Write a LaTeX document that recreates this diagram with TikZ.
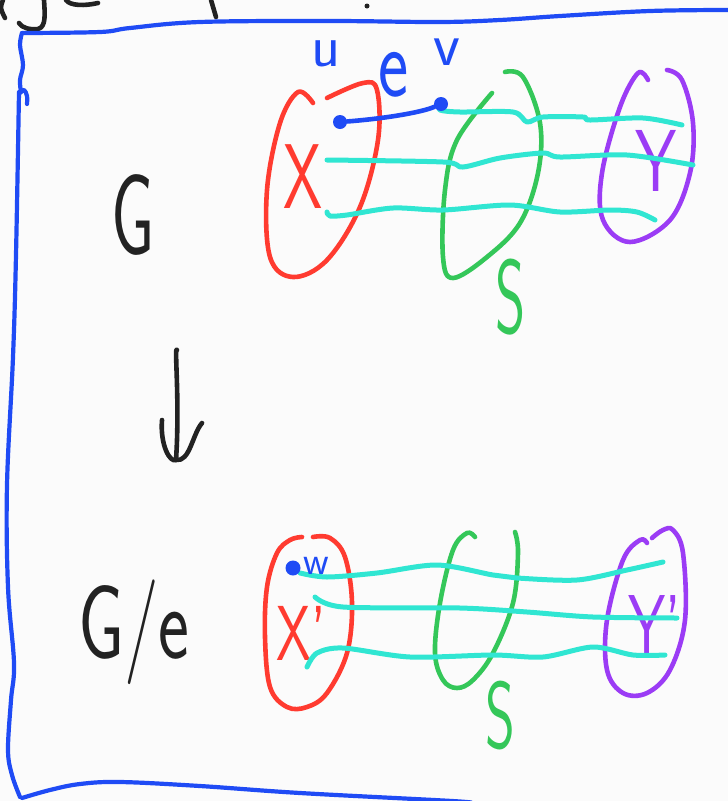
\documentclass[tikz,border=0pt]{standalone}
\usepackage{graphicx}
\definecolor{fblue}{HTML}{1F4BF5}
\definecolor{fred}{HTML}{FF3B30}
\definecolor{fgreen}{HTML}{34C759}
\definecolor{fpurple}{HTML}{9B3CF5}
\definecolor{fcyan}{HTML}{30E6D2}
\definecolor{fink}{HTML}{222222}
\definecolor{paper}{HTML}{FBFBFB}
\newcommand\hw[3]{{\fontsize{#1}{#1}\selectfont\scalebox{#2}[1]{#3}}}
\begin{document}
\begin{tikzpicture}[x=1pt,y=-1pt,
  pen/.style={line width=4.6pt, line cap=round, line join=round},
  wide/.style={line width=5pt, line cap=round, line join=round},
  hand/.style={inner sep=0pt, font=\sffamily},
  vdot/.style={circle, fill=fblue, inner sep=0pt, minimum size=14pt}]
\useasboundingbox (0,0) rectangle (728,801);
\fill[paper] (0,0) rectangle (728,801);

% cut-off handwriting at the top
\draw[pen, fink] (3,0) .. controls (0,8) .. (5,18);
\draw[pen, fink] (44,0) .. controls (45,15) and (46,27) .. (38,29) .. controls (30,30) and (22,28) .. (19,23);
\draw[pen, fink] (66,0) .. controls (70,6) and (85,6) .. (98,3);
\draw[pen, fink] (211,0) -- (216,17);
\fill[fink] (367,6) circle (2.5pt);

% blue frame
\draw[pen, fblue, line width=4.2pt] plot[smooth, tension=0.6] coordinates {(728,10) (650,11) (560,16) (500,20) (440,22) (330,21) (200,22) (130,28) (100,32) (22,33)};
\draw[pen, fblue, line width=4.2pt] plot[smooth, tension=0.6] coordinates {(22,33) (20,45) (23,65) (20,80) (21,92)};
\draw[pen, fblue, line width=4.2pt] plot[smooth, tension=0.6] coordinates {(20,93) (24,90) (27,96) (27,104)};
\draw[pen, fblue, line width=4.2pt] plot[smooth, tension=0.6] coordinates {(19,92) (16,255) (13,357) (7,485) (8,587) (14,663) (11,700) (8,750) (12,775) (20,797)};
\draw[pen, fblue, line width=4.2pt] plot[smooth, tension=0.6] coordinates {(22,798) (50,790) (80,784) (120,782) (200,786) (300,793) (452,801) (470,803)};

% ---------------- G ----------------
\node[hand, text=fink] (G) at (133,215) {\hw{115}{0.6}{G}};

% red X blob
\draw[pen, fred] plot[smooth, tension=0.6] coordinates {(313,103) (298,92) (280,123) (267,190) (270,257) (293,277) (327,260) (360,207) (378,140) (377,90) (363,83) (327,98)};
\node[hand, text=fred] (X) at (303,177) {\hw{92}{0.68}{X}};

% green S blob
\draw[pen, fgreen] plot[smooth, tension=0.6] coordinates {(505,72) (523,77) (540,123) (538,173) (520,223) (487,257) (453,278) (443,257) (445,190) (457,140) (492,93)};
\node[hand, text=fgreen] (S1) at (511,297) {\hw{105}{0.55}{S}};

% purple Y blob
\draw[pen, fpurple] plot[smooth, tension=0.6] coordinates {(648,80) (638,73) (620,107) (602,173) (603,220) (630,242) (670,220) (690,173) (693,123) (682,80) (667,70)};
\node[hand, text=fpurple] (Y) at (656,161) {\hw{88}{0.75}{Y}};

% cyan paths
\draw[wide, fcyan] plot[smooth, tension=0.5] coordinates {(441,104) (440,110) (460,112) (513,112) (527,122) (543,117) (583,117) (590,120) (643,118) (682,125)};
\draw[wide, fcyan] plot[smooth, tension=0.5] coordinates {(327,160) (443,162) (463,167) (500,158) (543,153) (560,157) (627,155) (693,165)};
\draw[wide, fcyan] plot[smooth, tension=0.5] coordinates {(327,212) (330,216) (347,215) (393,208) (443,210) (510,205) (560,212) (610,210) (637,212) (655,220)};

% edge e = uv
\node[vdot] (u) at (340,122) {};
\node[vdot] (v) at (441,104) {};
\draw[pen, fblue] (u) .. controls (380,119) and (420,113) .. (v);
\node[hand, text=fblue] (ul) at (326,54) {\hw{60}{1}{u}};
\node[hand, text=fblue] (el) at (394,75) {\hw{100}{0.72}{e}};
\node[hand, text=fblue] (vl) at (447,52) {\hw{62}{1}{v}};

% ---------------- arrow ----------------
\coordinate (a1) at (177,350);
\coordinate (a2) at (176,460);
\coordinate (h1) at (162,420);
\coordinate (h2) at (202,423);
\draw[pen, fink] (a1) .. controls (174,345) and (180,400) .. (a2);
\draw[pen, fink] (h1) .. controls (160,445) and (170,463) .. (a2) .. controls (190,462) and (192,435) .. (h2);

% ---------------- G/e ----------------
\node[hand, text=fink] (Ge) at (134,632) {\hw{105}{0.7}{G/e}};

% red X' blob
\draw[pen, fred] plot[smooth, tension=0.6] coordinates {(302,537) (290,540) (277,553) (267,587) (265,637) (270,687) (287,707) (307,707) (327,693) (347,653) (352,603) (345,557) (330,538) (313,537)};
\node[hand, text=fred] (X2) at (301,633) {\hw{78}{0.72}{X'}};

% green S blob (bottom)
\draw[pen, fgreen] plot[smooth, tension=0.6] coordinates {(475,537) (467,533) (453,550) (440,603) (435,653) (443,680) (457,688) (473,680) (493,653) (513,603) (518,553) (515,532)};
\node[hand, text=fgreen] (S2) at (500,716) {\hw{95}{0.6}{S}};

% purple Y' blob
\draw[pen, fpurple] plot[smooth, tension=0.6] coordinates {(647,543) (640,540) (623,560) (607,620) (607,670) (623,693) (647,693) (670,670) (685,620) (683,553) (673,530) (663,530) (652,538)};
\node[hand, text=fpurple] (Y2) at (655,625) {\hw{85}{0.7}{Y'}};

% cyan paths (bottom)
\draw[wide, fcyan] plot[smooth, tension=0.5] coordinates {(300,573) (327,577) (377,573) (437,565) (493,575) (517,578) (577,580) (627,570) (663,562)};
\draw[wide, fcyan] plot[smooth, tension=0.5] coordinates {(315,597) (343,607) (460,608) (527,612) (593,617) (677,618)};
\draw[wide, fcyan] plot[smooth, tension=0.5] coordinates {(307,667) (317,653) (343,648) (410,657) (493,655) (543,657) (593,647) (633,655) (665,655)};

% contracted vertex
\node[vdot, minimum size=15pt] (w) at (293,568) {};
\node[hand, text=fblue] (wl) at (316,566) {\hw{40}{1}{w}};
\end{tikzpicture}
\end{document}
